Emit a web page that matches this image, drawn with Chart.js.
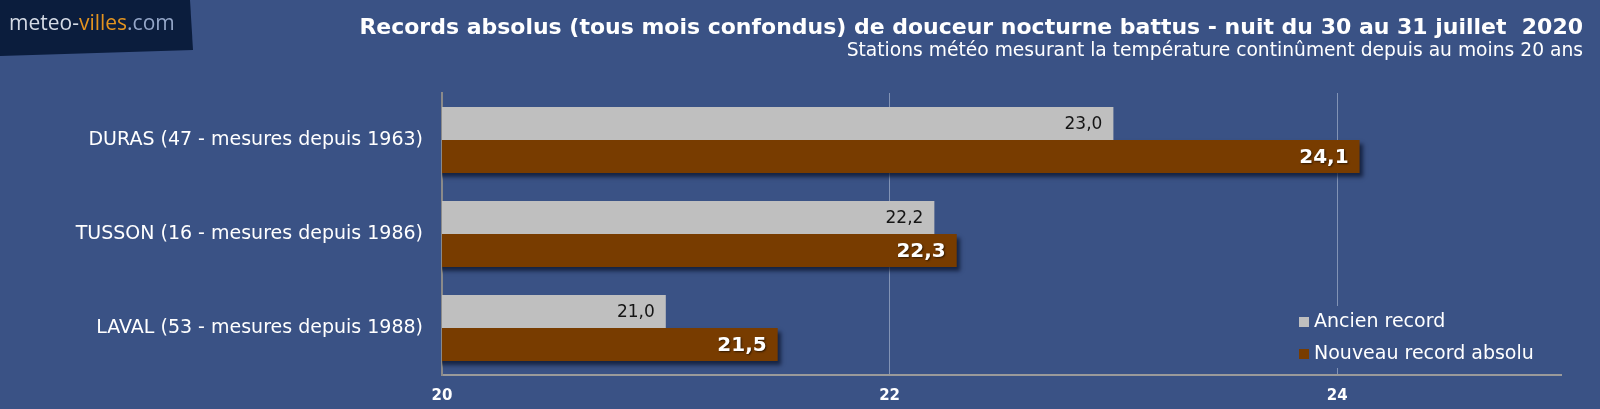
<!DOCTYPE html>
<html>
<head>
<meta charset="utf-8">
<script src="https://cdn.jsdelivr.net/npm/chart.js@4/dist/chart.umd.min.js"></script>
<style>
  html, body { margin: 0; padding: 0; background: #3a5285; overflow: hidden; }
  #records { display: block; }
</style>
</head>
<body>
<canvas id="records" width="1600" height="409"></canvas>
<script>
// données
const categories = [
    'DURAS (47 - mesures depuis 1963)',
    'TUSSON (16 - mesures depuis 1986)',
    'LAVAL (53 - mesures depuis 1988)'
];
const ancienRecord = [23.0, 22.2, 21.0];
const nouveauRecord = [24.1, 22.3, 21.5];
const xTicks = [20, 22, 24];
const xMin = 20;
const xMax = 25;

const titre = 'Records absolus (tous mois confondus) de douceur nocturne battus - nuit du 30 au 31 juillet  2020';
const sousTitre = 'Stations météo mesurant la température continûment depuis au moins 20 ans';

const BG = '#3a5285';
const GRIS = '#bfbfbf';
const BRUN = '#783c00';
const SANS = '"DejaVu Sans", Verdana, sans-serif';

const formatVal = v => v.toFixed(1).replace('.', ',');

// ajuste la taille de police pour tenir dans la largeur voulue
const fitFont = (c, txt, weight, size, largeur) => {
    c.font = weight + ' ' + size + 'px ' + SANS;
    const w = c.measureText(txt).width;
    const s = Math.min(size * 1.2, Math.max(size * 0.8, size * largeur / w));
    c.font = weight + ' ' + s.toFixed(2) + 'px ' + SANS;
};

// logo + titres
const decorPlugin = {
    id: 'decor',
    beforeDraw(chart) {
        const c = chart.ctx;
        c.save();
        c.fillStyle = BG;
        c.fillRect(0, 0, chart.width, chart.height);
        // cartouche du logo
        c.fillStyle = '#0b1d3d';
        c.beginPath();
        c.moveTo(0, 0);
        c.lineTo(190, 0);
        c.lineTo(193, 50);
        c.lineTo(0, 56);
        c.closePath();
        c.fill();
        c.font = '21px "Open Sans", sans-serif';
        c.textBaseline = 'alphabetic';
        let x = 9;
        [['meteo-', '#d5dbe6'], ['villes', '#e3931f'], ['.com', '#94a6c8']].forEach(([t, col]) => {
            c.fillStyle = col;
            c.fillText(t, x, 30);
            x += c.measureText(t).width;
        });
        // titre
        c.fillStyle = '#ffffff';
        c.textAlign = 'right';
        c.textBaseline = 'middle';
        fitFont(c, titre, 'bold', 21, 1224);
        c.fillText(titre, 1583, 28);
        fitFont(c, sousTitre, 'normal', 18, 737);
        c.fillText(sousTitre, 1583, 51);
        c.restore();
    }
};

// ombre sous les barres brunes
const ombrePlugin = {
    id: 'ombre',
    beforeDatasetDraw(chart, args) {
        if (args.index !== 1) return;
        const c = chart.ctx;
        c.save();
        c.shadowColor = 'rgba(10, 20, 45, 0.75)';
        c.shadowBlur = 4;
        c.shadowOffsetX = 3;
        c.shadowOffsetY = 4;
    },
    afterDatasetDraw(chart, args) {
        if (args.index !== 1) return;
        chart.ctx.restore();
    }
};

// étiquettes de valeurs + légende
const etiquettesPlugin = {
    id: 'etiquettes',
    afterDatasetsDraw(chart) {
        const c = chart.ctx;
        c.save();
        c.textAlign = 'right';
        c.textBaseline = 'middle';
        chart.getDatasetMeta(0).data.forEach((bar, i) => {
            c.font = '17px ' + SANS;
            c.fillStyle = '#151515';
            c.fillText(formatVal(ancienRecord[i]), bar.x - 11, bar.y + 1);
        });
        chart.getDatasetMeta(1).data.forEach((bar, i) => {
            c.font = 'bold 20px ' + SANS;
            c.fillStyle = '#ffffff';
            c.shadowColor = 'rgba(0,0,0,0.6)';
            c.shadowOffsetX = 1;
            c.shadowOffsetY = 1;
            c.shadowBlur = 2;
            c.fillText(formatVal(nouveauRecord[i]), bar.x - 11, bar.y + 1);
            c.shadowColor = 'transparent';
        });
        // légende (fond qui masque la grille)
        c.fillStyle = BG;
        c.fillRect(1292, 306, 268, 62);
        c.textAlign = 'left';
        c.font = '19px ' + SANS;
        chart.data.datasets.forEach((ds, i) => {
            const y = 322 + i * 32;
            c.fillStyle = ds.backgroundColor;
            c.fillRect(1299, y - 5, 10, 10);
            c.fillStyle = '#ffffff';
            c.fillText(ds.label, 1314, y);
        });
        c.restore();
    }
};

new Chart(document.getElementById('records'), {
    type: 'bar',
    data: {
        labels: categories,
        datasets: [{
            label: 'Ancien record',
            data: ancienRecord,
            backgroundColor: GRIS,
            borderWidth: 0
        }, {
            label: 'Nouveau record absolu',
            data: nouveauRecord,
            backgroundColor: BRUN,
            borderWidth: 0
        }]
    },
    options: {
        indexAxis: 'y',
        responsive: false,
        animation: false,
        devicePixelRatio: 1,
        layout: { padding: { top: 93, right: 39, left: 0, bottom: 0 } },
        datasets: { bar: { categoryPercentage: 0.70, barPercentage: 1.0 } },
        plugins: {
            legend: { display: false },
            tooltip: { enabled: false }
        },
        scales: {
            x: {
                type: 'linear',
                min: xMin,
                max: xMax,
                afterBuildTicks: scale => {
                    scale.ticks = xTicks.map(v => ({ value: v }));
                },
                afterFit: scale => { scale.height = 34; },
                grid: {
                    color: 'rgba(190, 200, 220, 0.55)',
                    lineWidth: 1,
                    drawTicks: false
                },
                border: { color: '#9a9a9a', width: 2 },
                ticks: {
                    color: '#ffffff',
                    padding: 12,
                    font: { family: SANS, size: 15, weight: 'bold' }
                }
            },
            y: {
                afterFit: scale => { scale.width = 442; },
                grid: { display: false, drawTicks: false },
                border: { color: '#8a8a8a', width: 2 },
                ticks: {
                    color: '#ffffff',
                    padding: 19,
                    font: { family: SANS, size: 19 }
                }
            }
        }
    },
    plugins: [decorPlugin, ombrePlugin, etiquettesPlugin]
});
</script>
</body>
</html>
